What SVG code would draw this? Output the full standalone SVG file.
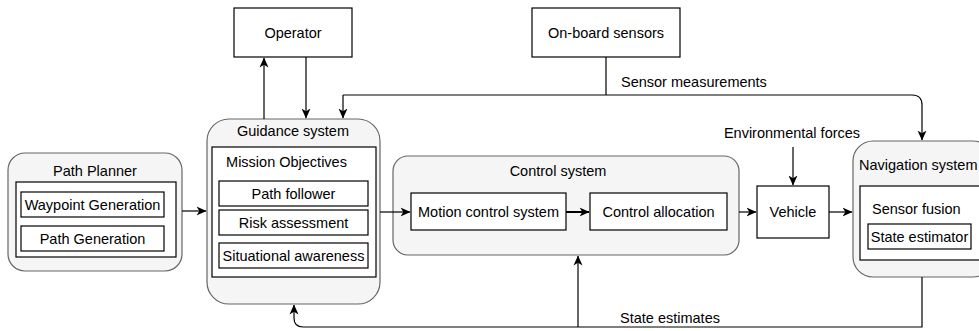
<svg xmlns="http://www.w3.org/2000/svg" width="979" height="331" viewBox="0 0 979 331">
  <defs>
    <marker id="arrow" viewBox="0 0 10 10" refX="9.5" refY="5" markerWidth="10" markerHeight="10" markerUnits="userSpaceOnUse" orient="auto">
      <path d="M0,0.5 L10,5 L0,9.5 L2.8,5 Z" fill="#000"/>
    </marker>
    <style>
      text { font-family: "Liberation Sans", Arial, sans-serif; font-size: 14.5px; fill: #000; }
      .c { text-anchor: middle; dominant-baseline: central; }
      .l { text-anchor: start; dominant-baseline: central; }
      .group { fill: #f5f5f5; stroke: #666; stroke-width: 1.2; }
      .box { fill: #fff; stroke: #000; stroke-width: 1.2; }
      .wire { fill: none; stroke: #000; stroke-width: 1.2; }
      .arr { marker-end: url(#arrow); }
    </style>
  </defs>

  <!-- top nodes -->
  <g id="operator">
    <rect class="box" x="234" y="8" width="118" height="49"/>
    <text class="c" x="293" y="32.5">Operator</text>
  </g>
  <g id="onboard-sensors">
    <rect class="box" x="532" y="8" width="148" height="49"/>
    <text class="c" x="606" y="32.5">On-board sensors</text>
  </g>

  <!-- path planner -->
  <g id="path-planner">
    <rect class="group" x="8" y="153" width="174" height="118" rx="17"/>
    <text class="c" x="95" y="171">Path Planner</text>
    <rect class="box" x="16" y="182" width="160" height="75"/>
    <rect class="box" x="21" y="192" width="143" height="25"/>
    <text class="c" x="92.5" y="204.5">Waypoint Generation</text>
    <rect class="box" x="21" y="226" width="143" height="25"/>
    <text class="c" x="92.5" y="238.5">Path Generation</text>
  </g>

  <!-- guidance -->
  <g id="guidance-system">
    <rect class="group" x="207" y="119" width="173" height="185" rx="22"/>
    <text class="c" x="293" y="131">Guidance system</text>
    <rect class="box" x="212" y="147" width="164" height="130"/>
    <text class="c" x="286.5" y="162">Mission Objectives</text>
    <rect class="box" x="219" y="181" width="149" height="25"/>
    <text class="c" x="293.5" y="193.5">Path follower</text>
    <rect class="box" x="219" y="210" width="149" height="25"/>
    <text class="c" x="293.5" y="222.5">Risk assessment</text>
    <rect class="box" x="219" y="243" width="149" height="25"/>
    <text class="c" x="293.5" y="255.5">Situational awareness</text>
  </g>

  <!-- control -->
  <g id="control-system">
    <rect class="group" x="393" y="156" width="346" height="99" rx="15"/>
    <text class="c" x="558" y="171">Control system</text>
    <rect class="box" x="411" y="193" width="155" height="37"/>
    <text class="c" x="488.5" y="211.5">Motion control system</text>
    <rect class="box" x="590" y="193" width="137" height="37"/>
    <text class="c" x="658.5" y="211.5">Control allocation</text>
  </g>

  <!-- vehicle -->
  <g id="vehicle">
    <rect class="box" x="757" y="186" width="72" height="52"/>
    <text class="c" x="793" y="212">Vehicle</text>
  </g>

  <!-- navigation -->
  <g id="navigation-system">
    <rect class="group" x="853" y="141" width="140" height="136" rx="20"/>
    <text class="l" x="859" y="165">Navigation system</text>
    <rect class="box" x="860" y="186" width="130" height="74"/>
    <text class="l" x="872" y="209">Sensor fusion</text>
    <rect class="box" x="868" y="224" width="103" height="25"/>
    <text class="c" x="919.5" y="236.5">State estimator</text>
  </g>

  <!-- connectors, drawn over the containers -->
  <g id="connectors">
    <path class="wire arr" d="M182,211 L206,211"/>
    <path class="wire arr" d="M380,212 L410,212"/>
    <path class="wire arr" d="M566,212 L589,212" style="stroke-width:2"/>
    <path class="wire arr" d="M739,212 L756,212"/>
    <path class="wire arr" d="M829,212 L852,212"/>
    <path class="wire arr" d="M793,147 L793,185"/>
    <path class="wire arr" d="M264,119 L264,58"/>
    <path class="wire arr" d="M306,57 L306,118"/>
    <path class="wire" d="M606,57 L606,95"/>
    <path class="wire arr" d="M343,95 L912,95 Q922,95 922,105 L922,140"/>
    <path class="wire arr" d="M343,95 L343,118"/>
    <path class="wire arr" d="M922,277 L922,327 L303,327 Q294,327 294,318 L294,305"/>
    <path class="wire arr" d="M578,327 L578,256"/>
  </g>

  <!-- labels -->
  <g id="labels">
    <text class="l" x="621" y="82">Sensor measurements</text>
    <text class="c" x="792" y="133">Environmental forces</text>
    <text class="c" x="670" y="318">State estimates</text>
  </g>
</svg>
